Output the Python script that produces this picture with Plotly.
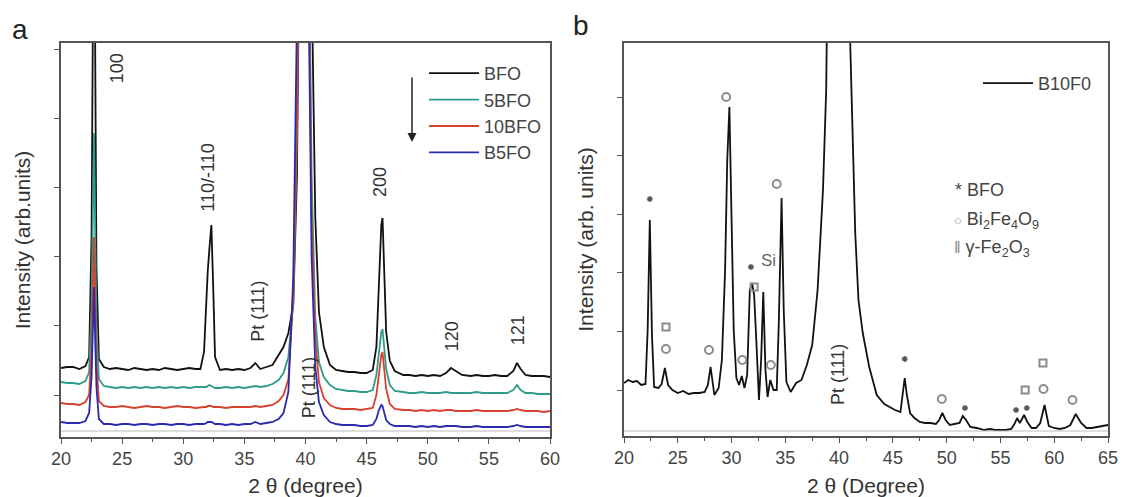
import plotly.graph_objects as go

# ---------------- Panel a data (2theta in degrees, intensity in arb. units) ----------------
two_theta_a = [20, 20.5, 21, 21.5, 22, 22.3, 22.5, 22.6, 22.7, 22.8,
               22.9, 23.1, 23.5, 24, 24.5, 25, 25.5, 26, 26.5, 27,
               27.5, 28, 28.5, 29, 29.5, 30, 30.5, 31, 31.4, 31.7,
               31.9, 32.0, 32.15, 32.3, 32.45, 32.6, 33, 33.5, 34, 34.5,
               35, 35.5, 35.9, 36.3, 36.8, 37.3, 37.8, 38.2, 38.6, 39.0,
               39.3, 39.6, 39.9, 40.2, 40.5, 40.8, 41.1, 41.5, 42, 42.5,
               43, 43.5, 44, 44.5, 45, 45.5, 45.8, 46.0, 46.2, 46.3,
               46.45, 46.6, 46.9, 47.3, 48, 48.5, 49, 49.5, 50, 50.5,
               51, 51.5, 51.9, 52.3, 52.8, 53.5, 54, 54.5, 55, 55.5,
               56, 56.5, 57, 57.3, 57.6, 58, 58.5, 59, 59.5, 60]

bfo = [69, 70, 70, 68, 71, 80, 200, 420, 600, 380,
       170, 78, 70, 68, 69, 68, 67, 69, 68, 67,
       68, 67, 69, 68, 67, 68, 69, 68, 68, 85,
       150, 165, 190, 212, 150, 80, 67, 68, 67, 68,
       67, 69, 74, 68, 70, 72, 82, 90, 104, 132,
       260, 600, 1000, 800, 460, 220, 125, 90, 72, 67,
       66, 65, 65, 64, 64, 67, 90, 150, 212, 219,
       160, 105, 76, 66, 62, 62, 61, 62, 61, 62,
       61, 64, 69, 66, 62, 61, 62, 61, 61, 62,
       61, 61, 66, 74, 68, 62, 61, 61, 61, 60]

bfo_5 = [55, 54, 54, 53, 56, 65, 130, 220, 304, 200,
         110, 58, 51, 50, 49, 50, 49, 50, 49, 50,
         49, 50, 49, 50, 49, 50, 49, 50, 50, 50,
         50, 51, 52, 51, 50, 49, 49, 50, 49, 50,
         49, 50, 51, 50, 51, 53, 57, 64, 80, 135,
         300, 700, 1000, 600, 260, 120, 75, 60, 52, 48,
         47, 46, 46, 45, 45, 47, 62, 85, 105, 108,
         90, 68, 52, 46, 45, 44, 44, 45, 44, 44,
         44, 45, 44, 44, 44, 44, 45, 44, 44, 44,
         44, 44, 47, 52, 47, 44, 44, 43, 43, 43]

bfo_10 = [34, 33, 33, 32, 35, 42, 90, 150, 200, 130,
          75, 36, 31, 30, 30, 31, 30, 29, 30, 31,
          30, 30, 29, 30, 31, 30, 30, 29, 30, 30,
          30, 31, 31, 31, 30, 30, 30, 29, 30, 30,
          30, 30, 31, 30, 31, 32, 36, 42, 58, 140,
          320, 750, 1000, 550, 220, 100, 55, 39, 32, 29,
          28, 28, 28, 27, 28, 29, 42, 62, 82, 85,
          68, 48, 33, 28, 27, 27, 26, 27, 26, 27,
          26, 27, 27, 26, 26, 26, 27, 26, 26, 26,
          26, 26, 27, 28, 27, 26, 26, 26, 25, 26]

b5fo = [15, 14, 14, 14, 16, 24, 60, 110, 150, 95,
        50, 18, 13, 13, 12, 13, 13, 12, 13, 13,
        12, 13, 13, 12, 13, 13, 12, 13, 13, 13,
        14, 15, 15, 15, 14, 13, 13, 12, 13, 12,
        13, 13, 15, 13, 14, 15, 18, 24, 45, 160,
        420, 850, 1000, 500, 180, 70, 35, 22, 15, 13,
        12, 12, 12, 11, 11, 12, 18, 27, 32, 31,
        24, 17, 13, 11, 11, 11, 10, 11, 10, 11,
        10, 11, 11, 11, 10, 10, 11, 10, 10, 10,
        10, 10, 11, 12, 11, 10, 10, 10, 10, 10]

series_a_names = ["BFO", "5BFO", "10BFO", "B5FO"]

peak_labels_a = ["100", "110/-110", "Pt (111)", "200", "120", "121", "Pt (111)"]
peak_label_x_a = [24.6, 32.0, 36.1, 46.1, 52.0, 57.4, 40.3]
peak_label_y_a = [369, 259, 126, 255, 101, 107, 49]

# ---------------- Panel b data ----------------
two_theta_b = [20, 20.4, 20.8, 21.2, 21.6, 22.0, 22.2, 22.4, 22.6, 22.8,
               23.2, 23.5, 23.8, 24.1, 24.5, 25, 25.5, 26, 26.5, 27,
               27.5, 27.8, 28.05, 28.4, 28.8, 29.1, 29.4, 29.6, 29.8, 30.0,
               30.2, 30.45, 30.7, 30.95, 31.2, 31.45, 31.7, 31.9, 32.1, 32.3,
               32.55, 32.75, 32.95, 33.15, 33.35, 33.6, 33.9, 34.2, 34.4, 34.65,
               34.85, 35.1, 35.5, 36, 36.5, 37, 37.5, 38, 38.5, 38.8,
               39.2, 39.6, 39.9, 40.2, 40.6, 41.0, 41.5, 41.8, 42.2, 42.8,
               43.5, 44.2, 45.2, 45.7, 45.9, 46.1, 46.3, 46.6, 47, 47.5,
               48, 48.5, 49, 49.3, 49.6, 49.9, 50.3, 50.8, 51.2, 51.5,
               51.8, 52.2, 52.8, 53.5, 54, 54.5, 55, 55.5, 56, 56.3,
               56.55, 56.8, 57.2, 57.5, 57.9, 58.3, 58.7, 59.1, 59.5, 60,
               60.5, 61, 61.5, 62.0, 62.5, 63, 63.5, 64, 64.5, 65]

b10f0 = [7, 10, 8, 9, 5, 6, 60, 170, 55, 3,
         2, 6, 22, 5, 0, -3, -1, -4, -3, -3,
         -2, 5, 23, -5, 2, 30, 120, 230, 283, 180,
         60, 12, 5, 14, 2, 15, 100, 107, 95, 50,
         -10, 30, 98, 20, -7, 10, 0, 0, 70, 192,
         80, 8, -2, 7, 10, 25, 45, 100, 200, 300,
         650, 1200, 1400, 1200, 650, 360, 157, 90, 57, 23,
         -5, -14, -20, -22, -5, 12, -5, -23, -28, -32,
         -33, -33, -34, -30, -23, -30, -35, -34, -33, -26,
         -30, -37, -38, -40, -39, -40, -40, -40, -39, -34,
         -28, -33, -25, -32, -38, -38, -33, -15, -36, -38,
         -39, -38, -35, -24, -33, -38, -38, -37, -36, -35]

# phase identification symbols in panel b
bfo_mark_x = [22.4, 31.8, 46.1, 51.7, 56.45, 57.45]
bfo_mark_y = [191, 123, 31, -18, -20, -18]
bi2fe4o9_mark_x = [23.9, 27.9, 29.5, 31.0, 33.65, 34.2, 49.55, 59.0, 61.7]
bi2fe4o9_mark_y = [41, 40, 293, 30, 25, 206, -9, 1, -10]
fe2o3_mark_x = [23.9, 32.1, 57.3, 58.95]
fe2o3_mark_y = [63, 103, 0, 27]

FONT = "Liberation Sans, Arial, sans-serif"
TXT = "#333333"
AX = "#555555"
W, H = 1125, 497

def px_x(p):
    return p / W

def px_y(p):
    return (H - p) / H

fig = go.Figure()

colors_a = ["#111111", "#2f9c8a", "#d8412e", "#2a2aae"]
for name, ys, c in zip(series_a_names, [bfo, bfo_5, bfo_10, b5fo], colors_a):
    fig.add_trace(go.Scatter(x=two_theta_a, y=ys, mode="lines", name=name,
                             line=dict(color=c, width=1.8), xaxis="x", yaxis="y",
                             legend="legend"))

fig.add_trace(go.Scatter(x=two_theta_b, y=b10f0, mode="lines", name="B10F0",
                         line=dict(color="#111111", width=1.8), xaxis="x2", yaxis="y2",
                         legend="legend2"))

fig.add_trace(go.Scatter(x=bi2fe4o9_mark_x, y=bi2fe4o9_mark_y, mode="markers",
                         marker=dict(symbol="circle-open", size=8, color="#8c8c8c",
                                     line=dict(width=2, color="#8c8c8c")),
                         showlegend=False, xaxis="x2", yaxis="y2"))
fig.add_trace(go.Scatter(x=bfo_mark_x, y=bfo_mark_y, mode="markers",
                         marker=dict(symbol="asterisk-open", size=5, color="#555555",
                                     line=dict(width=1.4, color="#555555")),
                         showlegend=False, xaxis="x2", yaxis="y2"))
fig.add_trace(go.Scatter(x=fe2o3_mark_x, y=fe2o3_mark_y, mode="markers",
                         marker=dict(symbol="square-open", size=7, color="#8c8c8c",
                                     line=dict(width=2, color="#8c8c8c")),
                         showlegend=False, xaxis="x2", yaxis="y2"))

common_x = dict(showline=True, linecolor=AX, linewidth=1.5, mirror=True, ticks="outside",
                ticklen=5, tickwidth=1.2, tickcolor=AX, showgrid=False, zeroline=False,
                dtick=5, tickfont=dict(family=FONT, size=18, color="#444444"),
                minor=dict(dtick=2.5, ticks="outside", ticklen=3, tickcolor=AX),
                automargin=False)
common_y = dict(showline=True, linecolor=AX, linewidth=1.5, mirror=True, ticks="outside",
                ticklen=5, tickwidth=1.2, tickcolor=AX, showgrid=False, zeroline=False,
                showticklabels=False, automargin=False)

annotations = []
for t, xx, yy in zip(peak_labels_a, peak_label_x_a, peak_label_y_a):
    annotations.append(dict(text=t, x=xx, y=yy, xref="x", yref="y", showarrow=False,
                            textangle=-90, font=dict(family=FONT, size=18, color=TXT)))

annotations += [
    dict(text="Pt (111)", x=39.9, y=15, xref="x2", yref="y2", showarrow=False, textangle=-90,
         font=dict(family=FONT, size=18, color=TXT)),
    dict(text="Si", x=33.4, y=130, xref="x2", yref="y2", showarrow=False,
         font=dict(family=FONT, size=17, color="#666666")),
    dict(text="* BFO", x=px_x(953), y=px_y(190), xref="paper", yref="paper", showarrow=False,
         xanchor="left", yanchor="middle", font=dict(family=FONT, size=18, color="#444444")),
    dict(text="<span style='font-size:13px;color:#888'>○</span> Bi<sub>2</sub>Fe<sub>4</sub>O<sub>9</sub>",
         x=px_x(952), y=px_y(220),
         xref="paper", yref="paper", showarrow=False, xanchor="left", yanchor="middle",
         font=dict(family=FONT, size=18, color="#444444")),
    dict(text="<span style='font-size:16px;color:#888'>‖</span> γ-Fe<sub>2</sub>O<sub>3</sub>",
         x=px_x(952), y=px_y(248),
         xref="paper", yref="paper", showarrow=False, xanchor="left", yanchor="middle",
         font=dict(family=FONT, size=18, color="#444444")),
    dict(text="a", x=px_x(20), y=px_y(29), xref="paper", yref="paper", showarrow=False,
         xanchor="center", yanchor="middle", font=dict(family=FONT, size=28, color="#222222")),
    dict(text="b", x=px_x(581), y=px_y(25), xref="paper", yref="paper", showarrow=False,
         xanchor="center", yanchor="middle", font=dict(family=FONT, size=28, color="#222222")),
    dict(text="", x=px_x(412), y=px_y(142), xref="paper", yref="paper", showarrow=True,
         ax=0, ay=-66, arrowhead=2, arrowsize=1.2, arrowwidth=1.5, arrowcolor="#222222"),
]

fig.update_layout(
    width=W, height=H, margin=dict(l=0, r=0, t=0, b=0),
    paper_bgcolor="white", plot_bgcolor="white",
    font=dict(family=FONT, color=TXT),
    xaxis=dict(domain=[px_x(61), px_x(550)], range=[20, 60], tick0=20,
               title=dict(text="2 θ (degree)", standoff=12, font=dict(family=FONT, size=21, color=TXT)),
               anchor="y", **common_x),
    yaxis=dict(domain=[px_y(437), px_y(43)], range=[0, 394], tick0=42, dtick=69.2,
               title=dict(text="Intensity (arb.units)", standoff=18, font=dict(family=FONT, size=21, color=TXT)),
               anchor="x", **common_y),
    xaxis2=dict(domain=[px_x(624), px_x(1108)], range=[20, 65], tick0=20,
                title=dict(text="2 θ (Degree)", standoff=12, font=dict(family=FONT, size=21, color=TXT)),
                anchor="y2", **common_x),
    yaxis2=dict(domain=[px_y(436), px_y(43)], range=[-46, 347], tick0=0, dtick=58.6,
                title=dict(text="Intensity (arb. units)", standoff=18, font=dict(family=FONT, size=21, color=TXT)),
                anchor="x2", **common_y),
    legend=dict(x=px_x(424), y=px_y(55), xanchor="left", yanchor="top", itemwidth=50,
                font=dict(family=FONT, size=18, color="#444444"), bgcolor="rgba(0,0,0,0)",
                tracegroupgap=0),
    legend2=dict(x=px_x(978), y=px_y(65), xanchor="left", yanchor="top", itemwidth=50,
                 font=dict(family=FONT, size=18, color="#444444"), bgcolor="rgba(0,0,0,0)"),
    annotations=annotations,
    shapes=[
        dict(type="line", xref="x", yref="y", x0=20, x1=60, y0=6, y1=6,
             line=dict(color="#bbbbbb", width=1)),
        dict(type="line", xref="x2", yref="y2", x0=20, x1=65, y0=-41, y1=-41,
             line=dict(color="#bbbbbb", width=1)),
    ],
)

fig.write_html("out.html")
